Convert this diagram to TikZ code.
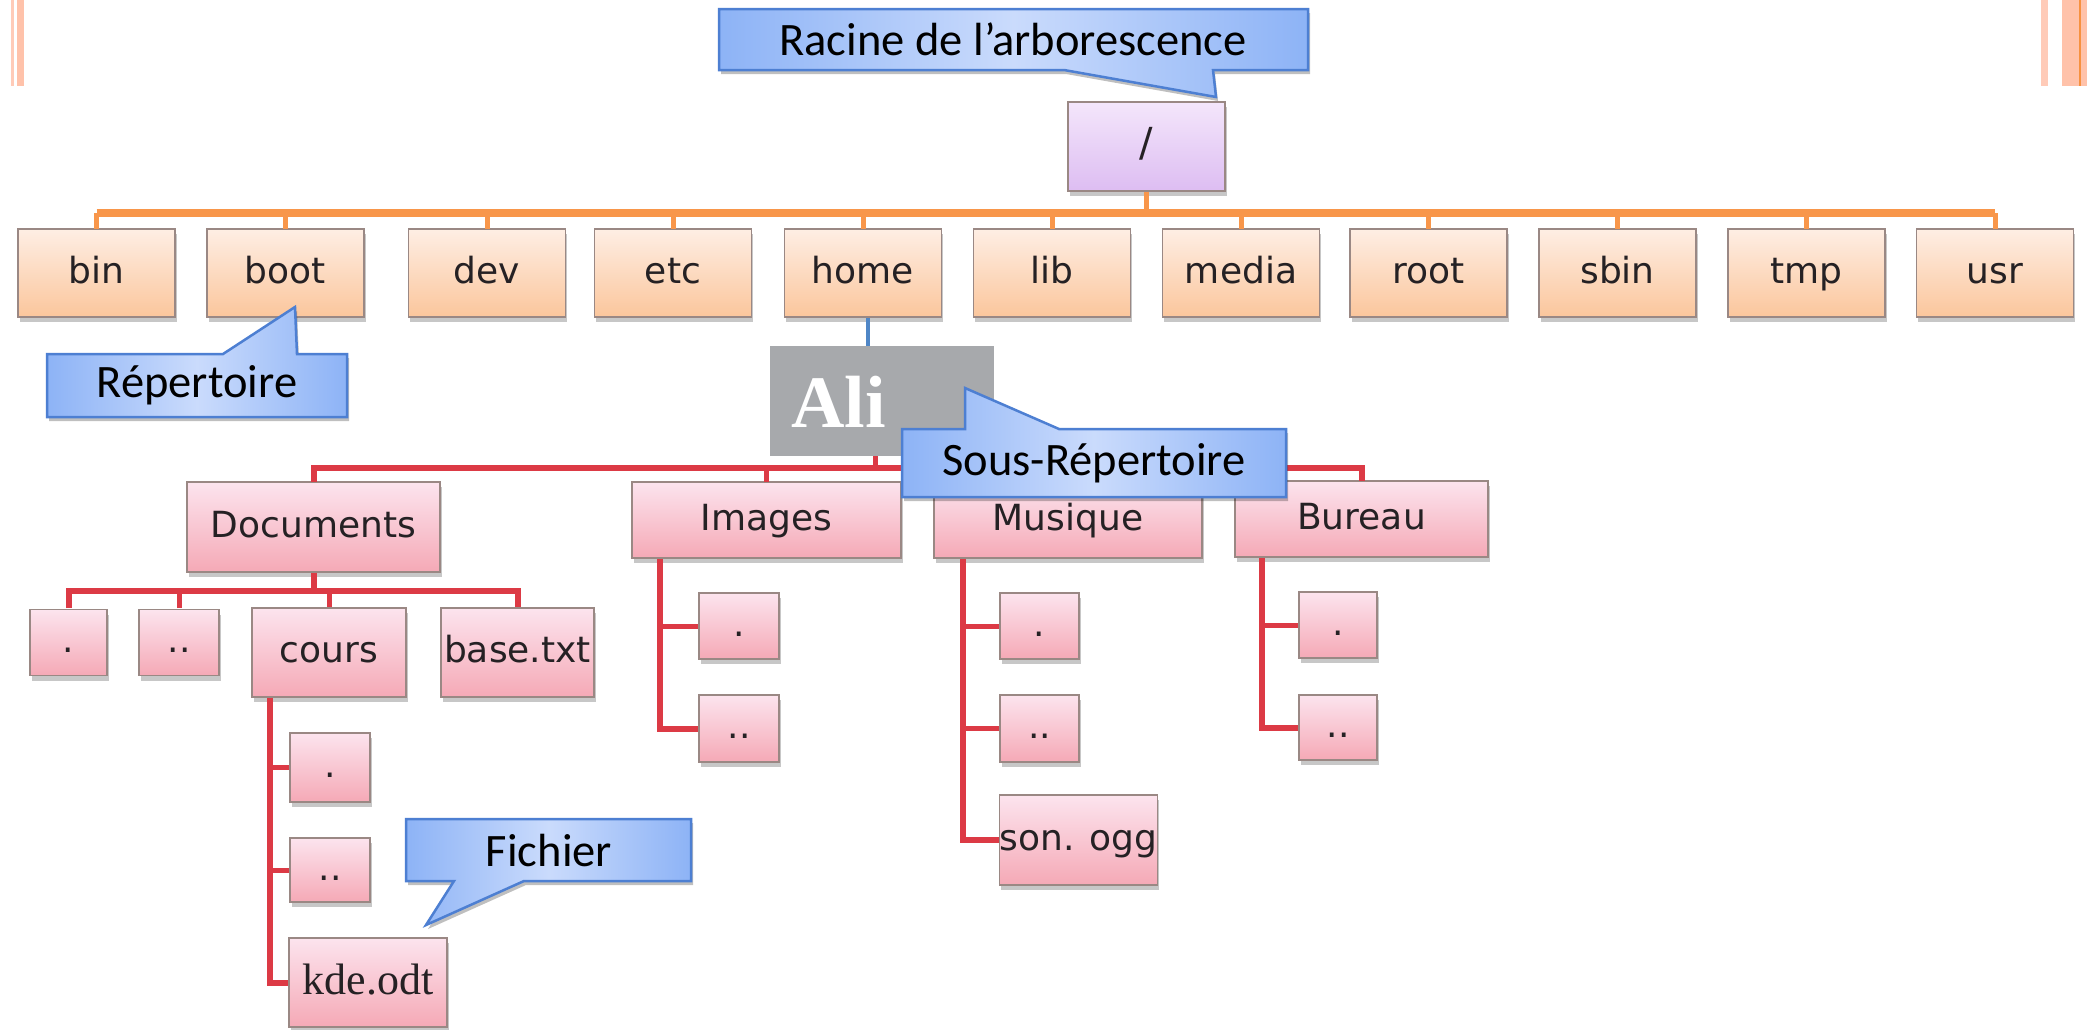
\documentclass[tikz,border=0pt]{standalone}
\usepackage{fontspec}
\setmainfont{DejaVu Sans}
\newfontfamily\calloutfont{Carlito}
\newfontfamily\romanfont{Liberation Serif}
\usetikzlibrary{shadows}

\definecolor{barpale}{HTML}{FFCBB8}
\definecolor{barpeach}{HTML}{FFC2AA}
\definecolor{barline}{HTML}{F7913F}
\definecolor{orangeline}{HTML}{F8964A}
\definecolor{peachtop}{HTML}{FEEEE4}
\definecolor{peachbot}{HTML}{FBC69C}
\definecolor{lavtop}{HTML}{F4E6FB}
\definecolor{lavbot}{HTML}{DDBDF2}
\definecolor{pinktop}{HTML}{FCE4EE}
\definecolor{pinkbot}{HTML}{F5A9B6}
\definecolor{boxedge}{HTML}{9A8884}
\definecolor{textdark}{HTML}{252124}
\definecolor{redline}{HTML}{DC3A45}
\definecolor{blueline}{HTML}{4F86C6}
\definecolor{aligrey}{HTML}{A7A9AC}
\definecolor{callside}{HTML}{8DB3F6}
\definecolor{callmid}{HTML}{CADBFC}
\definecolor{calledge}{HTML}{4D7FD2}

\begin{document}
\begin{tikzpicture}[x=1pt,y=-1pt,
  dirbox/.style={rectangle, draw=boxedge, line width=1.5pt, inner sep=0pt,
    text=textdark, font=\fontsize{36}{40}\selectfont,
    text height=27pt, text depth=7pt,
    drop shadow={shadow xshift=1.5pt, shadow yshift=-5pt, opacity=0.22, fill=black}},
  topbox/.style={dirbox, top color=peachtop, bottom color=peachbot,
    minimum width=157pt, minimum height=88pt},
  pinkbox/.style={dirbox, top color=pinktop, bottom color=pinkbot},
  dotbox/.style={pinkbox, minimum width=79pt, minimum height=66pt},
  obus/.style={draw=orangeline, line width=8pt},
  ostub/.style={draw=orangeline, line width=5pt},
  rbus/.style={draw=redline, line width=6pt, line join=miter},
  rstub/.style={draw=redline, line width=5pt},
  callout/.style={draw=calledge, line width=2.5pt, line join=miter,
    left color=callside, right color=callside, middle color=callmid,
    drop shadow={shadow xshift=2pt, shadow yshift=-4pt, opacity=0.25, fill=black}},
  callouttext/.style={inner sep=0pt, text=black, font=\calloutfont\fontsize{46.5}{50}\selectfont}
]
\useasboundingbox (0,0) rectangle (2087,1029);
\fill[white] (0,0) rectangle (2087,1029);

% slide decoration bars
\fill[barpale] (11,0) rectangle (14,86);
\fill[barpeach] (17,0) rectangle (24,86);
\fill[barpale] (2041,0) rectangle (2048,86);
\fill[barpeach] (2062,0) rectangle (2087,86);
\fill[barline] (2079,0) rectangle (2081,86);

% bus levels and trunk columns
\coordinate (obusy) at (0,213);
\coordinate (rbusy) at (0,468);
\coordinate (dbusy) at (0,591);
\coordinate (coursx) at (270,0);
\coordinate (imgx) at (660,0);
\coordinate (musx) at (963,0);
\coordinate (burx) at (1262,0);

% ---------- first level ----------
\node[dirbox, top color=lavtop, bottom color=lavbot, minimum width=157pt,
      minimum height=89pt, font=\fontsize{40}{44}\selectfont] (root) at (1146.5,146.5) {/};

\node[topbox] (bin)   at (96.5,273)  {bin};
\node[topbox] (boot)  at (285.5,273) {boot};
\node[topbox] (dev)   at (487,273)   {dev};
\node[topbox] (etc)   at (673,273)   {etc};
\node[topbox] (home)  at (863,273)   {home};
\node[topbox] (lib)   at (1052,273)  {lib};
\node[topbox] (media) at (1241,273)  {media};
\node[topbox] (rootd) at (1428.5,273) {root};
\node[topbox] (sbin)  at (1617.5,273) {sbin};
\node[topbox] (tmp)   at (1806.5,273) {tmp};
\node[topbox] (usr)   at (1995,273)  {usr};

% orange connectors
\draw[ostub] (root.south) -- (root.south |- obusy);
\draw[obus] (bin.north |- obusy) -- (usr.north |- obusy);
\foreach \n in {bin,boot,dev,etc,home,lib,media,rootd,sbin,tmp,usr}
  \draw[ostub] ([yshift=-0.75pt]\n.north) -- (\n.north |- obusy);

% ---------- home user folder ----------
\node[rectangle, fill=aligrey, minimum width=224pt, minimum height=110pt,
      inner sep=0pt] (ali) at (882,401) {};
\draw[blueline, line width=4pt] ([xshift=5pt]home.south) -- ([xshift=5pt]home.south |- ali.north);
\node[anchor=base west, inner sep=0pt, text=white,
      font=\romanfont\bfseries\fontsize{74}{80}\selectfont] (alitext) at (791,427) {Ali};

% ---------- second level ----------
\node[pinkbox, minimum width=253pt, minimum height=90pt] (docs) at (313.5,527) {Documents};
\node[pinkbox, minimum width=269pt, minimum height=76pt] (images) at (766.5,520) {Images};
\node[pinkbox, minimum width=268pt, minimum height=76pt] (musique) at (1068,520) {Musique};
\node[pinkbox, minimum width=253pt, minimum height=76pt] (bureau) at (1361.5,519) {Bureau};

\draw[rbus] ([yshift=-0.75pt]docs.north) -- (docs.north |- rbusy) -- (bureau.north |- rbusy) -- ([yshift=-0.75pt]bureau.north);
\draw[rstub] ([yshift=-0.75pt]images.north) -- (images.north |- rbusy);
\draw[rstub] ([yshift=-0.75pt]musique.north) -- (musique.north |- rbusy);
\draw[rstub] ([xshift=-7pt]ali.south) -- ([xshift=-7pt]ali.south |- rbusy);

% ---------- Documents content ----------
\node[dotbox, minimum width=77pt] (d1) at (68.5,642.5) {.};
\node[dotbox, minimum width=80pt] (d2) at (179,642.5) {..};
\node[pinkbox, minimum width=154pt, minimum height=89pt] (cours) at (329,652.5) {cours};
\node[pinkbox, minimum width=153pt, minimum height=89pt] (base) at (517.5,652.5) {base.txt};

\draw[rbus] (docs.south) -- (docs.south |- dbusy);
\draw[rbus] ([yshift=0.75pt]d1.north) -- (d1.north |- dbusy) -- (base.north |- dbusy) -- ([yshift=0.75pt]base.north);
\draw[rstub] ([yshift=0.75pt]d2.north) -- (d2.north |- dbusy);
\draw[rstub] ([yshift=0.75pt]cours.north) -- (cours.north |- dbusy);

% ---------- cours content ----------
\node[dotbox, minimum width=80pt, minimum height=69pt] (c1) at (330,767.5) {.};
\node[dotbox, minimum width=80pt, minimum height=64pt] (c2) at (330,870) {..};
\node[pinkbox, minimum width=158pt, minimum height=89pt, text height=31pt, text depth=8pt,
      font=\romanfont\fontsize{44}{48}\selectfont] (kde) at (368,982.5) {kde.odt};
\draw[rbus] (cours.south -| coursx) -- (kde.west -| coursx) -- (kde.west);
\draw[rstub] (c1.west -| coursx) -- (c1.west);
\draw[rstub] (c2.west -| coursx) -- (c2.west);

% ---------- Images content ----------
\node[dotbox, minimum width=80pt] (i1) at (739,626) {.};
\node[dotbox, minimum width=80pt, minimum height=67pt] (i2) at (739,728.5) {..};
\draw[rbus] (images.south -| imgx) -- (i2.west -| imgx) -- (i2.west);
\draw[rstub] (i1.west -| imgx) -- (i1.west);

% ---------- Musique content ----------
\node[dotbox] (m1) at (1039.5,626) {.};
\node[dotbox, minimum height=67pt] (m2) at (1039.5,728.5) {..};
\node[pinkbox, minimum width=157pt, minimum height=90pt] (son) at (1078.5,840) {son. ogg};
\draw[rbus] (musique.south -| musx) -- (son.west -| musx) -- (son.west);
\draw[rstub] (m1.west -| musx) -- (m1.west);
\draw[rstub] (m2.west -| musx) -- (m2.west);

% ---------- Bureau content ----------
\node[dotbox, minimum width=78pt] (b1) at (1338,625) {.};
\node[dotbox, minimum width=78pt, minimum height=65pt] (b2) at (1338,727.5) {..};
\draw[rbus] (bureau.south -| burx) -- (b2.west -| burx) -- (b2.west);
\draw[rstub] (b1.west -| burx) -- (b1.west);

% ---------- callouts ----------
\path[callout] (719,9) -- (1308,9) -- (1308,70) -- (1213,70) -- (1216,97)
  -- (1064,70) -- (719,70) -- cycle;
\node[callouttext] (racine) at (1013,39.5) {Racine de l’arborescence};

\path[callout] (47,354) -- (223,354) -- (295,307) -- (297,354) -- (347,354)
  -- (347,417) -- (47,417) -- cycle;
\node[callouttext] (repertoire) at (197,385.5) {Répertoire};

\path[callout] (902,429) -- (965,429) -- (965,388) -- (1059,429) -- (1286,429)
  -- (1286,497) -- (902,497) -- cycle;
\node[callouttext] (sousrep) at (1094,463) {Sous-Répertoire};

\path[callout] (406,819) -- (691,819) -- (691,881) -- (524,881) -- (426,925)
  -- (454,881) -- (406,881) -- cycle;
\node[callouttext] (fichier) at (549,850) {Fichier};
\end{tikzpicture}
\end{document}
